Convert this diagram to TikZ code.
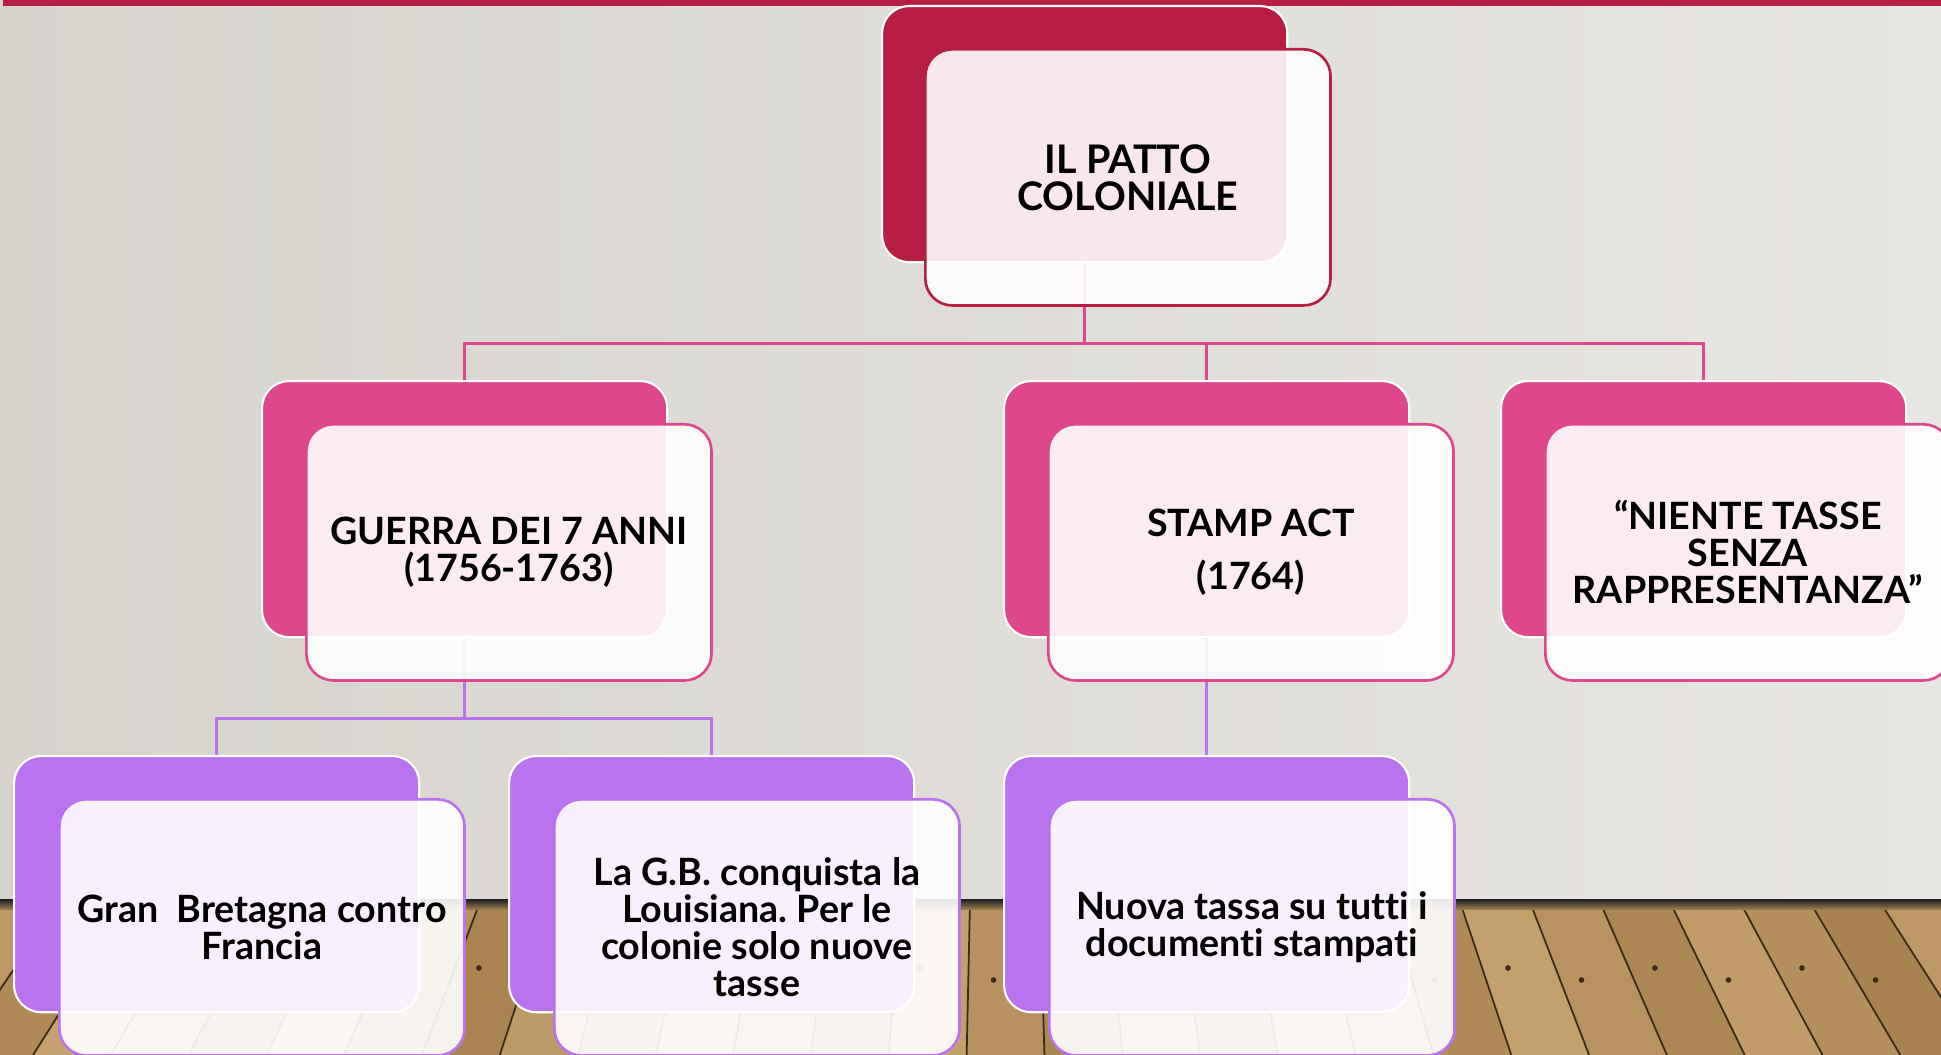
\documentclass[tikz,border=0pt]{standalone}
\usepackage{fontspec}
\setmainfont{Lato}[Ligatures=NoCommon]
\usetikzlibrary{calc}

\definecolor{crimson}{HTML}{B81E44}
\definecolor{rose}{HTML}{DE478C}
\definecolor{lilac}{HTML}{BA72EE}
\definecolor{wall}{HTML}{E8E6E2}
\definecolor{wallL}{HTML}{D6D3CD}
\definecolor{woodA}{HTML}{A8824F}
\definecolor{woodB}{HTML}{C9A572}
\definecolor{seam}{HTML}{3A2A18}

\tikzset{
  backbox/.style={rectangle, draw=white, line width=0.6pt, rounded corners=0.27cm, minimum width=4.05cm, minimum height=2.56cm, inner sep=0pt, anchor=north west},
  frontbox/.style={rectangle, fill=white, fill opacity=0.9, text opacity=1, line width=0.75pt, rounded corners=0.27cm, minimum width=4.05cm, minimum height=2.56cm, inner sep=0pt, align=center, anchor=north west, font=\fontsize{10.7}{10.5}\selectfont\bfseries\frenchspacing},
  link1/.style={rose, line width=0.9pt},
  link2/.style={lilac, line width=0.9pt},
}

\begin{document}
\begin{tikzpicture}[x=0.01cm, y=-0.01cm]
\useasboundingbox (0,0) rectangle (1941,1055);
\clip (0,0) rectangle (1941,1055);

% wall and floor
\shade[left color=wallL, right color=wall] (0,0) rectangle (1941,902);
\begin{scope}
\clip (0,902) rectangle (1941,1055);
\fill[woodA] (0,902) rectangle (1941,1055);
\foreach \p [count=\i] in {-10,60,...,1950} {
  \pgfmathtruncatemacro\s{mod(\i*37,100)}
  \fill[woodA!\s!woodB] (\p,902) -- (\p+70,902) -- ({1000+(\p-930)*1.1115},1055) -- ({1000+(\p-1000)*1.1115},1055) -- cycle;
  \draw[seam, line width=0.5pt] (\p,902) -- ({1000+(\p-1000)*1.1115},1055);
  \fill[seam] ({\p+25+(\p-1000)*0.05},{968+mod(\i,2)*12}) circle (0.8pt);
}
\end{scope}
\shade[top color=black!85, bottom color=woodA] (0,900) rectangle (1941,910);
\fill[crimson] (3,0) rectangle (1941,6);

% back cards
\node at (881,5)[backbox, fill=crimson] (pattoB) {};
\node at (261,380)[backbox, fill=rose] (guerraB) {};
\node at (1003,380)[backbox, fill=rose] (stampB) {};
\node at (1500,380)[backbox, fill=rose] (nienteB) {};
\node at (13,755)[backbox, fill=lilac] (granB) {};
\node at (508,755)[backbox, fill=lilac] (louisB) {};
\node at (1003,755)[backbox, fill=lilac] (tassaB) {};

% connectors
\draw[link1] (pattoB.south) -- ++(0,80) -| (guerraB.north);
\draw[link1] (pattoB.south) -- ++(0,80) -| (stampB.north);
\draw[link1] (pattoB.south) -- ++(0,80) -| (nienteB.north);
\draw[link2] (guerraB.south) -- ++(0,80) -| (granB.north);
\draw[link2] (guerraB.south) -- ++(0,80) -| (louisB.north);
\draw[link2] (stampB.south) -- (tassaB.north);

% front cards
\node at ($(pattoB.north west)+(43,43)$)[frontbox, draw=crimson, font=\fontsize{11.2}{10.5}\selectfont\bfseries] (patto) {IL PATTO\\COLONIALE};
\node at ($(guerraB.north west)+(44,43)$)[frontbox, draw=rose] (guerra) {GUERRA DEI 7 ANNI\\(1756-1763)};
\node at ($(stampB.north west)+(44,43)$)[frontbox, draw=rose] (stamp) {STAMP ACT\\[4.4pt](1764)};
\node at ($(nienteB.north west)+(44,43)$)[frontbox, draw=rose] (niente) {“NIENTE TASSE\\SENZA\\RAPPRESENTANZA”};
\node at ($(granB.north west)+(45,43)$)[frontbox, draw=lilac] (gran) {Gran\ \ Bretagna contro\\Francia};
\node at ($(louisB.north west)+(45,43)$)[frontbox, draw=lilac] (louis) {La G.B. conquista la\\Louisiana. Per le\\colonie solo nuove\\tasse};
\node at ($(tassaB.north west)+(45,43)$)[frontbox, draw=lilac] (tassa) {Nuova tassa su tutti i\\documenti stampati};
\end{tikzpicture}
\end{document}
